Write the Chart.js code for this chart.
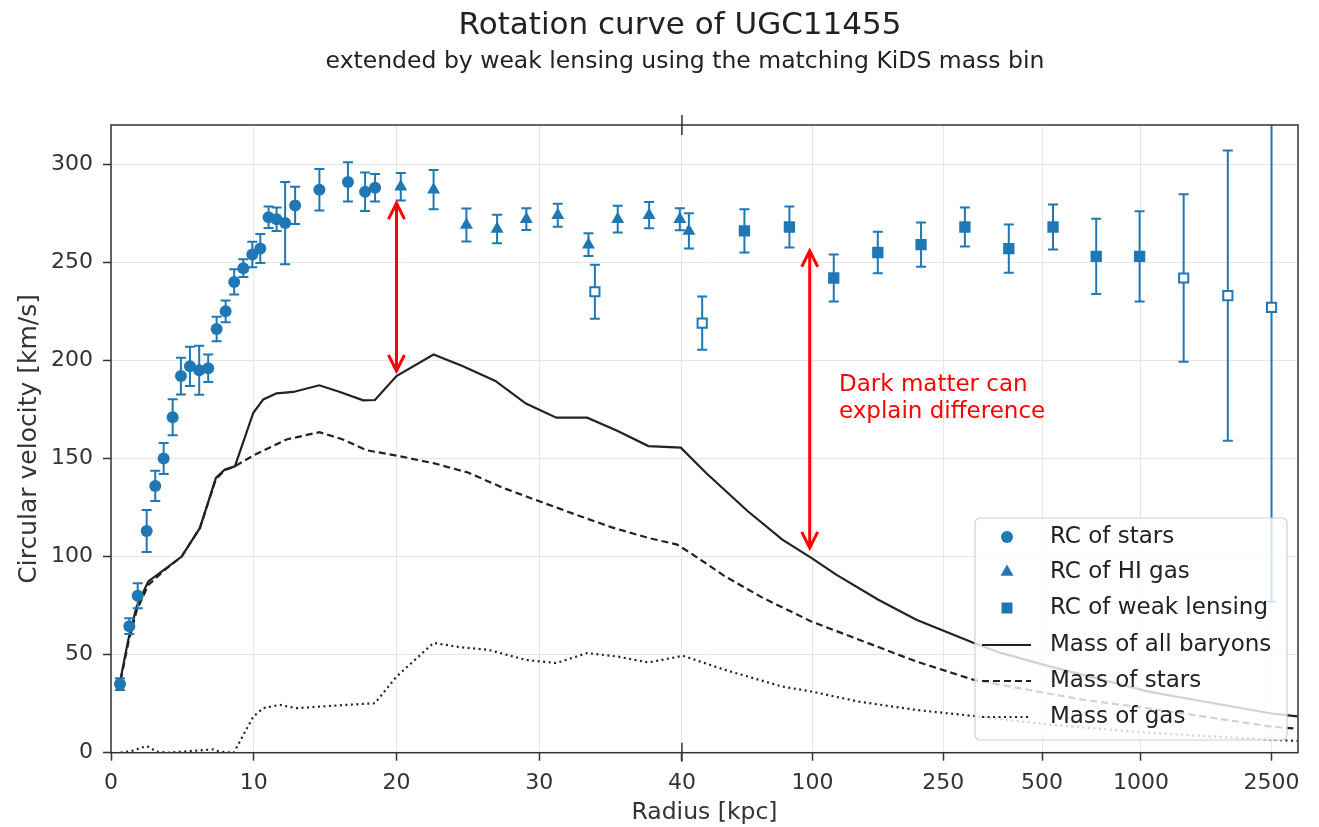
<!DOCTYPE html>
<html>
<head>
<meta charset="utf-8">
<title>Rotation curve of UGC11455</title>
<script src="https://cdn.jsdelivr.net/npm/chart.js@4.4.1/dist/chart.umd.min.js"></script>
<style>
  html, body { margin: 0; padding: 0; background: #fff; }
  #wrap { width: 1319px; height: 827px; }
</style>
</head>
<body>
<div id="wrap"><canvas id="rc"></canvas></div>
<script>
// x axis is broken: linear 0..40 kpc, then log10 beyond 40 kpc
const tickRadii = [0, 10, 20, 30, 40, 100, 250, 500, 1000, 2500];
const tickLabels = ['0', '10', '20', '30', '40', '100', '250', '500', '1000', '2500'];

// RC of stars (circles)
const starsR = [0.63, 1.28, 1.87, 2.5, 3.1, 3.69, 4.32, 4.9, 5.53, 6.18, 6.81, 7.4, 8.03, 8.63, 9.27, 9.9, 10.46, 11.04, 11.6, 12.2, 12.9, 14.6, 16.6, 17.8, 18.5];
const starsV = [35, 64.5, 80, 113, 136, 150, 171, 192, 197, 195, 196, 216, 225, 240, 247, 254, 257, 273, 272, 270, 279, 287, 291, 286, 288];
const starsErr = [3, 4, 6.4, 10.7, 7.7, 7.9, 9.2, 9.4, 10, 12.5, 7, 6.2, 5.5, 6.4, 4.5, 6.5, 7.4, 5.5, 6, 21, 9.5, 10.6, 10, 9.8, 7];

// RC of HI gas (triangles)
const hiR = [20.3, 22.6, 24.9, 27.05, 29.1, 31.3, 33.45, 35.5, 37.7, 39.85, 42];
const hiV = [288.5, 287, 269, 267, 272, 274, 259, 272, 274, 272, 266];
const hiErr = [7, 10, 8.4, 7.3, 5.5, 5.9, 5.8, 6.8, 6.7, 5.6, 9];

// RC of weak lensing (filled squares)
const wlR = [62, 85, 116, 158, 214, 291, 396, 540, 731, 991];
const wlV = [266, 268, 242, 255, 259, 268, 257, 268, 253, 253];
const wlErr = [11, 10.4, 12, 10.6, 11.3, 10, 12.3, 11.5, 19.2, 23];

// excluded points (open squares)
const openR = [33.9, 46.1, 1350, 1840, 2500];
const openV = [235, 219, 242, 233, 227];
const openErr = [13.8, 13.6, 42.7, 74, 150];

// mass models
const baryR = [0.68, 1.21, 1.8, 2.61, 3.9, 4.95, 6.23, 7.35, 7.98, 8.68, 9.97, 10.67, 11.6, 12.77, 14.59, 16.04, 17.67, 18.49, 20, 22.6, 24.66, 26.93, 29.07, 31.2, 33.36, 35.5, 37.65, 39.92, 47.3, 63.5, 80.9, 99.1, 118, 158.6, 207, 310, 372, 527, 1064, 2500, 3000];
const baryV = [38, 57.6, 74.6, 87.3, 94.2, 100, 114.6, 140.1, 144.4, 146, 173.3, 180.1, 183.2, 183.9, 187.3, 183.9, 179.6, 179.8, 192, 203, 197, 189.5, 178, 170.8, 170.8, 164, 156.3, 155.5, 142.7, 123.1, 108.6, 99.3, 90.8, 78, 67.8, 55.9, 51, 44, 31, 20, 18.5];

const starMassR = [0.68, 1.21, 1.8, 2.61, 3.9, 4.95, 6.23, 7.35, 7.98, 8.68, 9.97, 12.3, 14.6, 16.25, 17.9, 20.2, 22.65, 25.06, 27.47, 30, 32.55, 35.2, 37.65, 39.66, 42.5, 54.1, 70.6, 99.1, 138.6, 207, 310, 665, 1064, 2500, 3000];
const starMassV = [37, 56, 72.5, 85.5, 94, 100, 114.6, 139.5, 144, 146, 151.5, 159.7, 163.4, 159.7, 154.2, 151.2, 147.5, 142.7, 135, 128.2, 121.4, 114.6, 109.5, 106.1, 101.8, 89.9, 78.9, 66.9, 57.6, 46.5, 37.1, 27, 22.5, 13.3, 12.2];

const gasR = [0.68, 1.5, 2.5, 3.2, 4, 7.16, 7.6, 8.6, 9.97, 10.67, 11.8, 13.0, 14.64, 16.5, 18.49, 20, 22.6, 24.44, 26.4, 29.07, 31.2, 33.36, 35.5, 37.65, 40.3, 54.1, 80.9, 99.1, 138.6, 207, 310, 527, 1064, 2500, 3000];
const gasV = [0, 1, 3.4, 0.6, 0, 1.7, 0.5, 0, 18.4, 22.7, 24.4, 22.7, 23.5, 24.4, 25.2, 38.8, 56, 53.8, 52.5, 47.3, 45.7, 50.8, 49, 46, 49.4, 42.2, 33.7, 31.2, 26, 21.8, 18.7, 14.3, 10.1, 6.6, 6];

// red double arrows (radius, lower end, upper end)
const arrowR = [20, 98];
const arrowLow = [194.6, 104.4];
const arrowHigh = [280.2, 255.9];

const BLUE = '#1f77b4';
const FONT = '"DejaVu Sans", "Liberation Sans", sans-serif';

function xPos(r) {
    return r <= 40 ? r : 40 + 23.0 * Math.log10(r / 40);
}

function pts(rs, vs) {
    return rs.map((r, i) => ({x: xPos(r), y: vs[i]}));
}

function bars(rs, vs, es) {
    const out = [];
    rs.forEach((r, i) => {
        out.push({x: xPos(r), y: vs[i] - es[i]});
        out.push({x: xPos(r), y: vs[i] + es[i]});
        out.push({x: xPos(r), y: null});
    });
    return out;
}

function markerSet(data, style, radius, fill, border) {
    return {
        data: data, showLine: false, pointStyle: style, pointRadius: radius,
        backgroundColor: fill, borderColor: BLUE, pointBorderWidth: border
    };
}

function errSet(data) {
    return {
        data: data, showLine: true, spanGaps: false, borderColor: BLUE, borderWidth: 2,
        pointStyle: 'line', pointRadius: 5, pointBorderColor: BLUE, pointBorderWidth: 2
    };
}

function lineSet(data, dash) {
    return {
        data: data, showLine: true, borderColor: '#222', borderWidth: 2.2,
        borderDash: dash, pointRadius: 0, tension: 0
    };
}

// title, spines, arrows, note and legend
const decor = {
    id: 'decor',
    afterDatasetsDraw(chart) {
        const {ctx, chartArea: a, scales: {x, y}} = chart;
        ctx.save();
        ctx.strokeStyle = '#ff0000';
        ctx.lineWidth = 3;
        arrowR.forEach((r, i) => {
            const px = x.getPixelForValue(xPos(r));
            const lo = y.getPixelForValue(arrowLow[i]);
            const hi = y.getPixelForValue(arrowHigh[i]);
            ctx.beginPath();
            ctx.moveTo(px, lo); ctx.lineTo(px, hi);
            ctx.moveTo(px - 8, hi + 16); ctx.lineTo(px, hi); ctx.lineTo(px + 8, hi + 16);
            ctx.moveTo(px - 8, lo - 16); ctx.lineTo(px, lo); ctx.lineTo(px + 8, lo - 16);
            ctx.stroke();
        });
        ctx.fillStyle = '#ff0000';
        ctx.font = '23px ' + FONT;
        ctx.textAlign = 'left';
        ctx.textBaseline = 'middle';
        ctx.fillText('Dark matter can', 839, 385);
        ctx.fillText('explain difference', 839, 412);

        // box spines and the break mark at 40 kpc
        ctx.strokeStyle = '#333';
        ctx.lineWidth = 1.5;
        ctx.strokeRect(a.left, a.top, a.right - a.left, a.bottom - a.top);
        const bx = x.getPixelForValue(40);
        ctx.beginPath();
        ctx.moveTo(bx, a.top - 10); ctx.lineTo(bx, a.top + 10);
        ctx.moveTo(bx, a.bottom - 10); ctx.lineTo(bx, a.bottom + 9);
        ctx.stroke();
        ctx.restore();
    },
    afterDraw(chart) {
        const ctx = chart.ctx;
        ctx.save();
        ctx.fillStyle = '#222';
        ctx.textAlign = 'center';
        ctx.textBaseline = 'middle';
        ctx.font = '31px ' + FONT;
        ctx.fillText('Rotation curve of UGC11455', 680, 26);
        ctx.font = '23.5px ' + FONT;
        ctx.fillText('extended by weak lensing using the matching KiDS mass bin', 685, 62);

        // legend box
        const L = 975, T = 518, W = 312, H = 222;
        ctx.beginPath();
        ctx.roundRect(L, T, W, H, 5);
        ctx.fillStyle = 'rgba(255,255,255,0.8)';
        ctx.fill();
        ctx.strokeStyle = '#d0d0d0';
        ctx.lineWidth = 1.2;
        ctx.stroke();
        const rows = [537, 572, 608, 645, 681, 717];
        const names = ['RC of stars', 'RC of HI gas', 'RC of weak lensing', 'Mass of all baryons', 'Mass of stars', 'Mass of gas'];
        const mx = 1007;
        ctx.fillStyle = BLUE;
        ctx.beginPath(); ctx.arc(mx, rows[0], 6, 0, Math.PI * 2); ctx.fill();
        ctx.beginPath();
        ctx.moveTo(mx, rows[1] - 7.5); ctx.lineTo(mx + 6.5, rows[1] + 3.8); ctx.lineTo(mx - 6.5, rows[1] + 3.8);
        ctx.closePath(); ctx.fill();
        ctx.fillRect(mx - 5.5, rows[2] - 5.5, 11, 11);
        ctx.strokeStyle = '#222';
        ctx.lineWidth = 2.2;
        [[], [7, 4], [2, 3.5]].forEach((d, i) => {
            ctx.setLineDash(d);
            ctx.beginPath();
            ctx.moveTo(982, rows[3 + i]); ctx.lineTo(1031, rows[3 + i]);
            ctx.stroke();
        });
        ctx.setLineDash([]);
        ctx.fillStyle = '#222';
        ctx.textAlign = 'left';
        ctx.font = '23px ' + FONT;
        names.forEach((n, i) => ctx.fillText(n, 1050, rows[i]));
        ctx.restore();
    }
};

new Chart(document.getElementById('rc'), {
    type: 'scatter',
    data: {
        datasets: [
            markerSet(pts(starsR, starsV), 'circle', 6, BLUE, 0),
            markerSet(pts(hiR, hiV), 'triangle', 7.5, BLUE, 0),
            markerSet(pts(wlR, wlV), 'rect', 8, BLUE, 0),
            markerSet(pts(openR, openV), 'rect', 6.5, '#ffffff', 2),
            errSet(bars(starsR, starsV, starsErr)),
            errSet(bars(hiR, hiV, hiErr)),
            errSet(bars(wlR, wlV, wlErr)),
            errSet(bars(openR, openV, openErr)),
            lineSet(pts(baryR, baryV), []),
            lineSet(pts(starMassR, starMassV), [7, 4]),
            lineSet(pts(gasR, gasV), [2, 3.5])
        ]
    },
    options: {
        responsive: true,
        maintainAspectRatio: false,
        animation: false,
        events: [],
        layout: { padding: { top: 125, right: 21, left: 0, bottom: 0 } },
        plugins: {
            legend: { display: false },
            tooltip: { enabled: false }
        },
        scales: {
            x: {
                type: 'linear',
                min: 0,
                max: 83.16,
                afterBuildTicks: s => { s.ticks = tickRadii.map(r => ({value: xPos(r)})); },
                afterFit: s => { s.height = 74.3; },
                ticks: {
                    autoSkip: false, maxRotation: 0, padding: 9,
                    color: '#333', font: { family: FONT, size: 22 },
                    callback: (v, i) => tickLabels[i]
                },
                grid: { color: '#e6e6e6', lineWidth: 1, tickColor: '#333', tickLength: 8, tickWidth: 1.5 },
                border: { display: false },
                title: {
                    display: true, text: 'Radius [kpc]', color: '#333',
                    font: { family: FONT, size: 23.5 }, padding: { top: 0, bottom: 0 }
                }
            },
            y: {
                min: 0,
                max: 320,
                afterFit: s => { s.width = 111; },
                ticks: {
                    stepSize: 50, includeBounds: false, padding: 10,
                    color: '#333', font: { family: FONT, size: 22 }
                },
                grid: { color: '#e6e6e6', lineWidth: 1, tickColor: '#333', tickLength: 8, tickWidth: 1.5 },
                border: { display: false },
                title: {
                    display: true, text: 'Circular velocity [km/s]', color: '#333',
                    font: { family: FONT, size: 25 }, padding: { top: 14, bottom: 0 }
                }
            }
        }
    },
    plugins: [decor]
});
</script>
</body>
</html>
